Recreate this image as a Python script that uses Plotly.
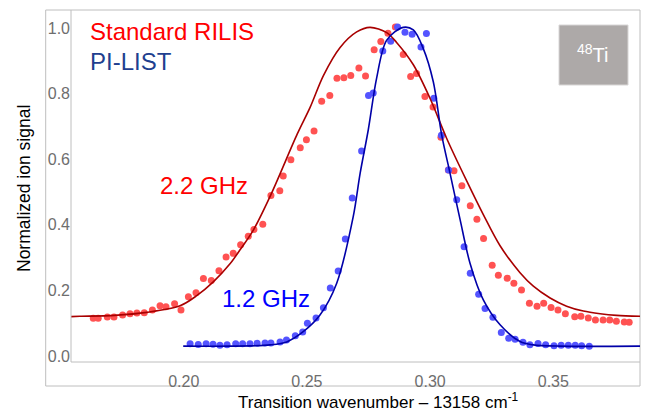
import plotly.graph_objects as go

# Standard RILIS (red) data points
red_x = [0.1633, 0.1653, 0.1690, 0.1717, 0.1752, 0.1782, 0.1810, 0.1840, 0.1873, 0.1904,
         0.1928, 0.1963, 0.1989, 0.2019, 0.2050, 0.2080, 0.2112, 0.2143, 0.2172, 0.2201,
         0.2231, 0.2262, 0.2285, 0.2321, 0.2354, 0.2390, 0.2404, 0.2435, 0.2473, 0.2498,
         0.2529, 0.2560, 0.2593, 0.2622, 0.2650, 0.2678, 0.2711, 0.2738, 0.2773, 0.2800,
         0.2829, 0.2859, 0.2891, 0.2921, 0.2945, 0.2979, 0.3012, 0.3044, 0.3074, 0.3097,
         0.3129, 0.3163, 0.3190, 0.3217, 0.3252, 0.3277, 0.3313, 0.3340, 0.3371, 0.3403,
         0.3434, 0.3461, 0.3491, 0.3519, 0.3549, 0.3587, 0.3612, 0.3642, 0.3671, 0.3702,
         0.3729, 0.3756, 0.3788, 0.3808]
red_y = [0.115, 0.115, 0.119, 0.119, 0.125, 0.129, 0.131, 0.132, 0.140, 0.153,
         0.150, 0.159, 0.140, 0.181, 0.193, 0.236, 0.230, 0.260, 0.302, 0.313,
         0.339, 0.365, 0.386, 0.402, 0.489, 0.504, 0.549, 0.598, 0.635, 0.659,
         0.686, 0.777, 0.794, 0.847, 0.848, 0.855, 0.878, 0.854, 0.934, 0.959,
         0.984, 1.003, 0.919, 0.852, 0.861, 0.791, 0.759, 0.667, 0.567, 0.565,
         0.519, 0.458, 0.417, 0.358, 0.277, 0.246, 0.237, 0.222, 0.201, 0.161,
         0.152, 0.161, 0.148, 0.140, 0.129, 0.120, 0.121, 0.116, 0.110, 0.110,
         0.110, 0.106, 0.104, 0.103]

# PI-LIST (blue) data points
blue_x = [0.2026, 0.2059, 0.2091, 0.2119, 0.2147, 0.2176, 0.2211, 0.2239, 0.2269, 0.2298,
          0.2330, 0.2354, 0.2391, 0.2417, 0.2453, 0.2483, 0.2502, 0.2537, 0.2567, 0.2595,
          0.2627, 0.2656, 0.2684, 0.2722, 0.2750, 0.2769, 0.2808, 0.2840, 0.2868, 0.2898,
          0.2927, 0.2963, 0.2985, 0.3015, 0.3046, 0.3075, 0.3108, 0.3138, 0.3163, 0.3197,
          0.3223, 0.3255, 0.3289, 0.3319, 0.3345, 0.3377, 0.3405, 0.3438, 0.3469, 0.3503,
          0.3532, 0.3561, 0.3589, 0.3615, 0.3646]
blue_y = [0.037, 0.035, 0.037, 0.036, 0.033, 0.034, 0.037, 0.037, 0.037, 0.039,
          0.040, 0.040, 0.043, 0.049, 0.062, 0.073, 0.100, 0.116, 0.147, 0.207,
          0.259, 0.357, 0.482, 0.625, 0.794, 0.802, 0.930, 0.960, 1.003, 0.987,
          0.981, 0.942, 0.983, 0.786, 0.673, 0.567, 0.476, 0.333, 0.252, 0.188,
          0.145, 0.118, 0.072, 0.054, 0.051, 0.042, 0.034, 0.038, 0.034, 0.031,
          0.033, 0.033, 0.033, 0.031, 0.030]

# Fit curves
red_fit_x = [0.1539, 0.1579, 0.1720, 0.1850, 0.1985, 0.2053, 0.2120, 0.2188, 0.2228, 0.2282,
             0.2354, 0.2461, 0.2513, 0.2567, 0.2634, 0.2702, 0.2756, 0.2824, 0.2864, 0.2932,
             0.3000, 0.3067, 0.3149, 0.3216, 0.3284, 0.3365, 0.3419, 0.3487, 0.3554, 0.3622,
             0.3690, 0.3757, 0.3852]
red_fit_y = [0.120, 0.121, 0.124, 0.133, 0.153, 0.184, 0.226, 0.281, 0.323, 0.383,
             0.492, 0.677, 0.758, 0.855, 0.940, 0.988, 1.002, 0.986, 0.956, 0.888,
             0.785, 0.664, 0.533, 0.431, 0.336, 0.254, 0.213, 0.177, 0.152, 0.137,
             0.129, 0.124, 0.121]
blue_fit_x = [0.1998, 0.2188, 0.2350, 0.2418, 0.2485, 0.2553, 0.2621, 0.2688, 0.2716, 0.2749,
              0.2783, 0.2824, 0.2891, 0.2932, 0.2972, 0.3013, 0.3047, 0.3081, 0.3122, 0.3162,
              0.3216, 0.3284, 0.3365, 0.3419, 0.3527, 0.3852]
blue_fit_y = [0.030, 0.030, 0.034, 0.043, 0.074, 0.125, 0.222, 0.425, 0.557, 0.689,
              0.847, 0.963, 1.002, 0.994, 0.938, 0.836, 0.674, 0.557, 0.415, 0.283,
              0.171, 0.095, 0.044, 0.034, 0.030, 0.030]

x_ticks = [0.20, 0.25, 0.30, 0.35]
x_tick_labels = ["0.20", "0.25", "0.30", "0.35"]
y_ticks = [0.0, 0.2, 0.4, 0.6, 0.8, 1.0]
y_tick_labels = ["0.0", "0.2", "0.4", "0.6", "0.8", "1.0"]

FONT = "Liberation Sans, Arial, sans-serif"
FRAME = "#BEBEBE"

fig = go.Figure()
fig.add_trace(go.Scatter(x=red_x, y=red_y, mode="markers",
                         marker=dict(color="#FF5252", size=7), showlegend=False))
fig.add_trace(go.Scatter(x=blue_x, y=blue_y, mode="markers",
                         marker=dict(color="#5454FF", size=7), showlegend=False))
fig.add_trace(go.Scatter(x=red_fit_x, y=red_fit_y, mode="lines",
                         line=dict(color="#A80000", width=1.6, shape="spline", smoothing=0.9),
                         showlegend=False))
fig.add_trace(go.Scatter(x=blue_fit_x, y=blue_fit_y, mode="lines",
                         line=dict(color="#0000A8", width=1.6, shape="spline", smoothing=0.9),
                         showlegend=False))

# plot area: x 71..640 px, y 10..362 px
PW, PH = 569.0, 352.0

def px(xp):
    return (xp - 71) / PW

def py(yp):
    return (362 - yp) / PH

shapes = [
    dict(type="rect", xref="paper", yref="paper", x0=px(45.7), y0=py(386), x1=1, y1=1,
         line=dict(color=FRAME, width=1), fillcolor="rgba(0,0,0,0)", layer="below"),
    dict(type="line", xref="paper", yref="paper", x0=0, y0=0, x1=0, y1=1,
         line=dict(color=FRAME, width=1)),
    dict(type="line", xref="paper", yref="paper", x0=0, y0=0, x1=1, y1=0,
         line=dict(color=FRAME, width=1)),
    dict(type="rect", xref="paper", yref="paper", x0=px(559), y0=py(85), x1=px(628), y1=py(25),
         line=dict(color="#D8D6D6", width=1), fillcolor="#ADA9A8"),
]

annotations = [
    dict(text="Standard RILIS", xref="paper", yref="paper", x=px(88), y=py(31),
         xanchor="left", yanchor="middle", showarrow=False,
         font=dict(family=FONT, size=24, color="#FF0000")),
    dict(text="PI-LIST", xref="paper", yref="paper", x=px(88), y=py(61),
         xanchor="left", yanchor="middle", showarrow=False,
         font=dict(family=FONT, size=24, color="#1F3F8F")),
    dict(text="2.2 GHz", xref="paper", yref="paper", x=px(204), y=py(185),
         xanchor="center", yanchor="middle", showarrow=False,
         font=dict(family=FONT, size=24, color="#FF0000")),
    dict(text="1.2 GHz", xref="paper", yref="paper", x=px(266), y=py(298),
         xanchor="center", yanchor="middle", showarrow=False,
         font=dict(family=FONT, size=24, color="#0000FF")),
    dict(text="<sup>48</sup>Ti", xref="paper", yref="paper", x=px(593), y=py(53),
         xanchor="center", yanchor="middle", showarrow=False,
         font=dict(family=FONT, size=20, color="#FFFFFF")),
    dict(text="Transition wavenumber – 13158 cm<sup>-1</sup>", xref="paper", yref="paper",
         x=px(378), y=py(401), xanchor="center", yanchor="middle", showarrow=False,
         font=dict(family=FONT, size=17, color="#000000")),
    dict(text="Normalized ion signal", xref="paper", yref="paper", textangle=-90,
         x=px(24), y=py(189), xanchor="center", yanchor="middle", showarrow=False,
         font=dict(family=FONT, size=17.5, color="#000000")),
]

fig.update_layout(
    width=646, height=414,
    margin=dict(l=71, r=6, t=10, b=52, autoexpand=False),
    paper_bgcolor="white", plot_bgcolor="white",
    shapes=shapes, annotations=annotations,
    xaxis=dict(range=[0.15426, 0.38519], tickvals=x_ticks, ticktext=x_tick_labels,
               showgrid=False, zeroline=False, showline=False, automargin=False,
               ticks="outside", ticklen=5, tickcolor="rgba(0,0,0,0)",
               tickfont=dict(family=FONT, size=16, color="#6E6E6E")),
    yaxis=dict(range=[-0.0183, 1.0549], tickvals=y_ticks, ticktext=y_tick_labels,
               showgrid=False, zeroline=False, showline=False, automargin=False,
               ticks="", tickfont=dict(family=FONT, size=16, color="#6E6E6E")),
)

fig.write_html("out.html")
